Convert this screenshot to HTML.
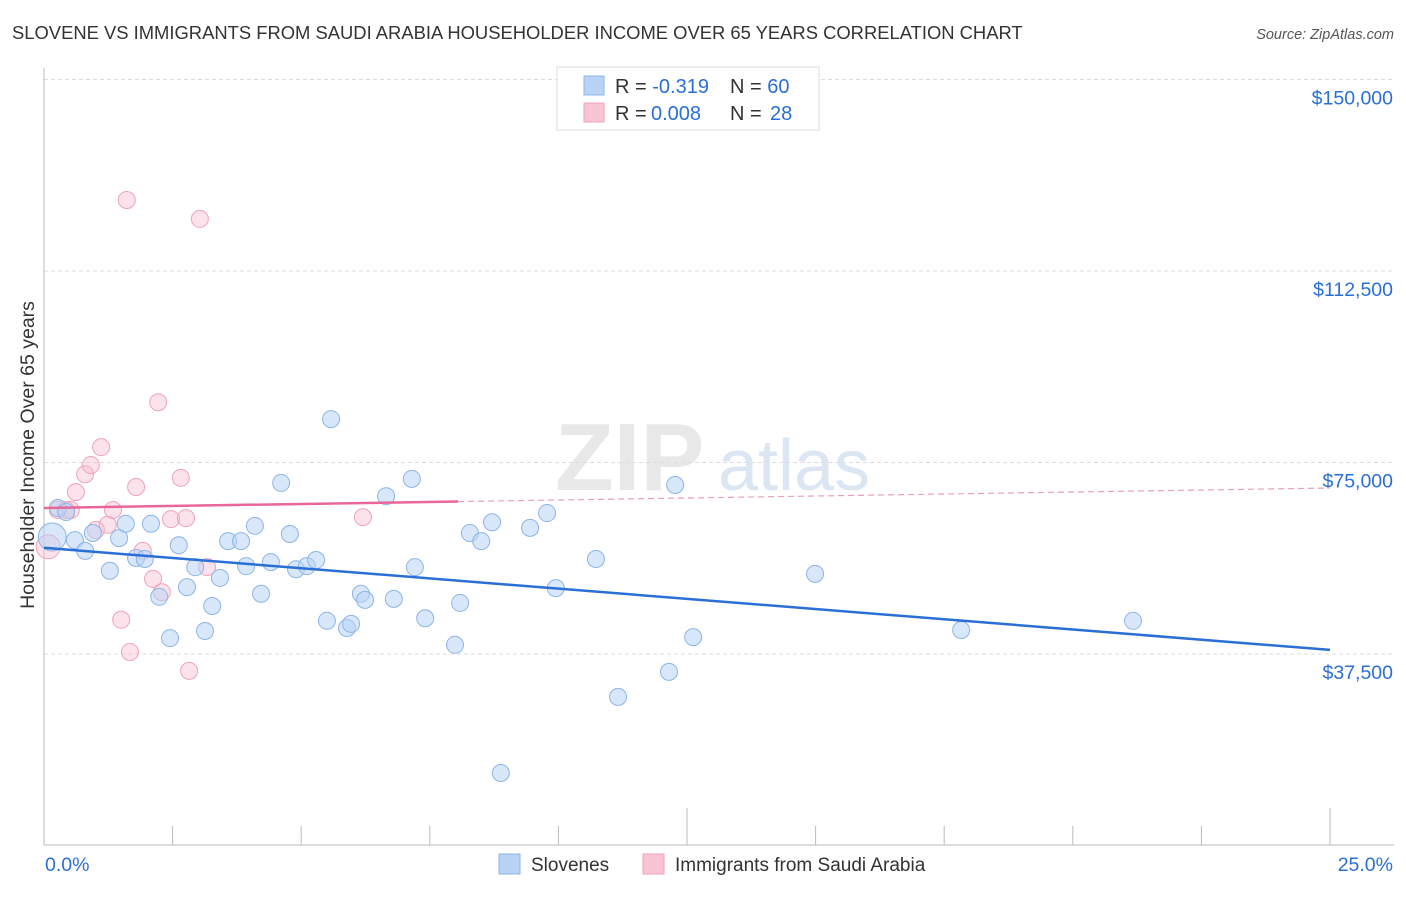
<!DOCTYPE html>
<html><head><meta charset="utf-8"><style>
body{margin:0;background:#fff;font-family:"Liberation Sans",sans-serif;}
svg text{font-family:"Liberation Sans",sans-serif;}
</style></head><body>
<svg width="1406" height="892" viewBox="0 0 1406 892">
<text x="12" y="39" font-size="18.4" fill="#333">SLOVENE VS IMMIGRANTS FROM SAUDI ARABIA HOUSEHOLDER INCOME OVER 65 YEARS CORRELATION CHART</text>
<text x="1394" y="39" font-size="14.5" fill="#555" text-anchor="end" font-style="italic">Source: ZipAtlas.com</text>
<g>
<text x="555" y="490" font-size="96" fill="#e8e8e8" font-family="Liberation Serif" font-weight="bold">ZIP</text>
<text x="718" y="490" font-size="72" fill="#dce6f3">atlas</text>
</g>
<g id="grid"></g>
<g id="axes"></g>
<g id="marks"></g>
<text transform="translate(34,455) rotate(-90)" font-size="19.5" fill="#333" text-anchor="middle">Householder Income Over 65 years</text>
<g>
<rect x="557" y="67" width="262" height="63" fill="#fff" stroke="#ddd"/>
<rect x="584" y="76" width="20" height="19" fill="#b8d3f5" stroke="#8db5e8"/>
<rect x="584" y="103" width="20" height="19" fill="#f9c5d4" stroke="#f0a3ba"/>
<text x="615" y="93" font-size="20" fill="#333">R = <tspan fill="#2a6fd6">-0.319</tspan><tspan x="730">N = </tspan><tspan fill="#2a6fd6">60</tspan></text>
<text x="615" y="120" font-size="20" fill="#333">R = <tspan fill="#2a6fd6" x="651">0.008</tspan><tspan x="730">N = </tspan><tspan fill="#2a6fd6" x="770">28</tspan></text>
</g>
<g>
<rect x="499" y="854" width="21" height="20" fill="#b8d3f5" stroke="#8db5e8"/>
<text x="531" y="871" font-size="19" fill="#333">Slovenes</text>
<rect x="643" y="854" width="21" height="20" fill="#f9c5d4" stroke="#f0a3ba"/>
<text x="675" y="871" font-size="19" fill="#333">Immigrants from Saudi Arabia</text>
</g>
</svg>
<script>
const yTicks=[37500,75000,112500,150000];
const yTickLabels=["$37,500","$75,000","$112,500","$150,000"];
const xEndLabels=["0.0%","25.0%"];
const blueX=[0.16,0.27,0.43,0.6,0.8,0.95,1.28,1.46,1.59,1.79,1.96,2.08,2.24,2.45,2.62,2.78,2.94,3.13,3.27,3.42,3.58,3.83,3.93,4.10,4.22,4.41,4.61,4.78,4.90,5.11,5.29,5.5,5.58,5.89,5.97,6.16,6.24,6.65,6.80,7.15,7.21,7.41,7.99,8.09,8.28,8.50,8.71,8.88,9.45,9.78,9.95,10.73,11.16,12.15,12.27,12.62,14.99,17.83,21.17];
const blueY=[60.4,66.1,65.3,59.8,57.7,61.2,53.8,60.2,63.0,56.3,56.1,63.0,48.7,40.6,58.8,50.6,54.5,42.0,46.9,52.4,59.6,59.6,54.7,62.6,49.3,55.5,71.0,61.0,54.1,54.7,55.9,44.0,83.5,42.6,43.4,49.3,48.1,68.4,48.3,71.8,54.5,44.5,39.3,47.5,61.2,59.6,63.3,14.2,62.2,65.1,50.4,56.1,29.1,34.0,70.6,40.8,53.2,42.2,44.0];
const pinkX=[0.08,0.27,0.43,0.52,0.62,0.8,0.91,1.01,1.11,1.24,1.34,1.5,1.61,1.67,1.79,1.92,2.12,2.22,2.29,2.47,2.66,2.76,2.82,3.03,3.17,6.2];
const pinkY=[58.5,65.7,65.7,65.7,69.2,72.7,74.5,61.8,78.0,62.8,65.7,44.2,126.4,37.9,70.2,57.7,52.2,86.8,49.6,63.9,72.0,64.1,34.2,122.7,54.5,64.3];
const blueTrend=[58.3,38.3];
const pinkTrend=[66.1,70.0];
const pinkSolidEnd=8.05;

const NS="http://www.w3.org/2000/svg";
const xs=p=>44+p*(1286/25);
const ys=v=>654-(v-37500)*191.5/37500;
const yk=v=>ys(v*1000);
function mk(parent,tag,attrs){const e=document.createElementNS(NS,tag);for(const k in attrs)e.setAttribute(k,attrs[k]);document.getElementById(parent).appendChild(e);return e;}
yTicks.forEach((t,i)=>{
 let l=mk('grid','line',{x1:44,x2:1394,y1:ys(t),y2:ys(t),stroke:'#ddd','stroke-dasharray':'4,3'});
 
 
 let tx=mk('axes','text',{x:1393,y:ys(t)+25,'font-size':19.5,fill:'#2a6fd6','text-anchor':'end'});
 tx.textContent=yTickLabels[i];
 
 
});
let ax=mk('axes','line',{x1:44,x2:1394,y1:845,y2:845,stroke:'#bbb'});


let ay=mk('axes','line',{x1:44,x2:44,y1:68,y2:845,stroke:'#bbb'});


for(let i=1;i<=10;i++){
 let p=i*2.5;
 let tk=mk('axes','line',{x1:xs(p),x2:xs(p),y1:(i==5||i==10)?808:826,y2:845,stroke:'#bbb'});
 
 
}
let xl0=mk('axes','text',{x:45,y:871,'font-size':19.5,fill:'#2a6fd6'});xl0.textContent=xEndLabels[0];


let xl1=mk('axes','text',{x:1393,y:871,'font-size':19.5,fill:'#2a6fd6','text-anchor':'end'});xl1.textContent=xEndLabels[1];



pinkX.forEach((x,i)=>{
 let c=mk('marks','circle',{cx:xs(x),cy:yk(pinkY[i]),r:i==0?12:8.5,fill:'rgba(249,190,208,0.45)',stroke:'#f0a3ba','stroke-width':1});
 
 
});
blueX.forEach((x,i)=>{
 let c=mk('marks','circle',{cx:xs(x),cy:yk(blueY[i]),r:i==0?14:8.5,fill:'rgba(184,211,245,0.55)',stroke:'#8db5e8','stroke-width':1});
 
 
});
let bt=mk('marks','line',{x1:xs(0),y1:yk(blueTrend[0]),x2:xs(25),y2:yk(blueTrend[1]),stroke:'#2a6fd6','stroke-width':2.5});


const pAt=p=>pinkTrend[0]+(pinkTrend[1]-pinkTrend[0])*p/25;
let pt=mk('marks','line',{x1:xs(0),y1:yk(pAt(0)),x2:xs(pinkSolidEnd),y2:yk(pAt(pinkSolidEnd)),stroke:'#e8669a','stroke-width':2.5});


let pd=mk('marks','line',{x1:xs(pinkSolidEnd),y1:yk(pAt(pinkSolidEnd)),x2:xs(25),y2:yk(pAt(25)),stroke:'#e8a0bc','stroke-width':1.2,'stroke-dasharray':'6,4'});


</script>
</body></html>
